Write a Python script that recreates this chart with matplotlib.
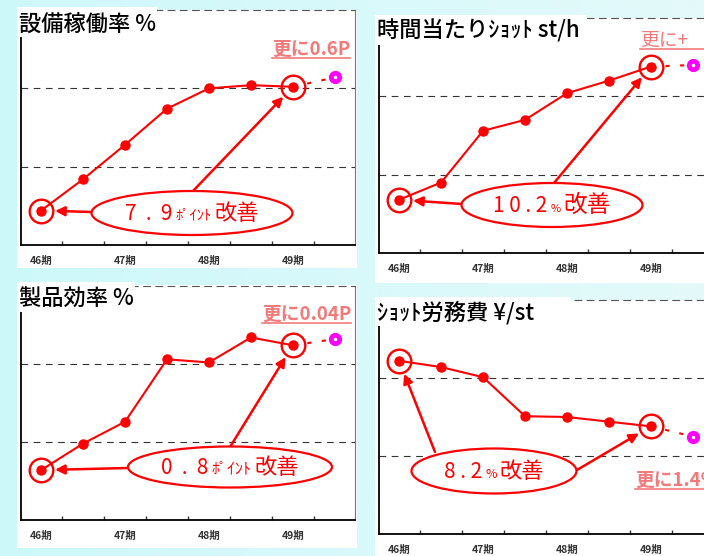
import numpy as np
import matplotlib.pyplot as plt
from matplotlib.patches import Ellipse, Rectangle
from matplotlib.colors import LinearSegmentedColormap
from matplotlib.offsetbox import TextArea, HPacker, AnnotationBbox

plt.rcParams['font.family'] = ['Noto Sans CJK JP', 'DejaVu Sans']

W, H = 704, 556

# data (y axes carry no labels, so the levels are relative)
periods = ['46期', '47期', '48期', '49期']
period_pos = [0, 2, 4, 6]

uptime = [77.2, 79.2, 81.4, 83.7, 85.0, 85.2, 85.1]
uptime_target = 85.7
shots_per_hour = [83.4, 84.5, 87.8, 88.5, 90.2, 91.0, 91.9]
shots_target = 92.0
product_eff = [97.32, 97.49, 97.63, 98.03, 98.01, 98.17, 98.12]
product_target = 98.16
labor_cost = [10.22, 10.14, 10.01, 9.51, 9.50, 9.44, 9.38]
labor_target = 9.25

RED = '#ff0000'
PINK = '#f27a7a'

fig = plt.figure(figsize=(W / 100, H / 100), dpi=100)

# background gradient and white panels (pixel coords, y down)
bg = fig.add_axes([0, 0, 1, 1], zorder=-10)
bg.set_xlim(0, W)
bg.set_ylim(H, 0)
bg.axis('off')
cmap = LinearSegmentedColormap.from_list('bg', ['#cdf8fa', '#e4fafa'])
bg.imshow(np.linspace(0, 1, 256)[None, :], extent=[0, W, H, 0], aspect='auto', cmap=cmap)
for x0, y0, x1, y1 in [(17, 10, 357, 268), (375, 18, 704, 283), (17, 285, 357, 548), (375, 300, 704, 556)]:
    bg.add_patch(Rectangle((x0, y0), x1 - x0, y1 - y0, fc='white', ec='none'))

# overlay for titles, ellipses and notes
ov = fig.add_axes([0, 0, 1, 1], zorder=10)
ov.set_xlim(0, W)
ov.set_ylim(H, 0)
ov.axis('off')
ov.patch.set_alpha(0)


def panel(box, values, target, ylim, grid):
    l, t, r, b = box
    ax = fig.add_axes([l / W, 1 - b / H, (r - l) / W, (b - t) / H])
    ax.set_xlim(-0.48, 7.48)
    ax.set_ylim(*ylim)
    ax.set_yticks(grid)
    ax.set_yticklabels([])
    ax.tick_params(axis='y', length=0)
    ax.yaxis.grid(True, ls=(0, (6, 5)), color='#333333', lw=0.8)
    ax.set_xticks(np.arange(0.5, 7, 1))
    ax.set_xticklabels([])
    ax.tick_params(axis='x', which='major', direction='in', length=3, width=1, color='#333333')
    ax.set_xticks(period_pos, minor=True)
    ax.set_xticklabels(periods, minor=True, fontsize=7.5, fontweight='bold', color='#333333')
    ax.tick_params(axis='x', which='minor', length=0, pad=8)
    ax.spines['left'].set_linewidth(1.3)
    ax.spines['bottom'].set_linewidth(1.3)
    ax.spines['right'].set_color('#777777')
    ax.spines['top'].set_color('#555555')
    ax.spines['top'].set_linestyle((0, (6, 5)))
    ax.spines['top'].set_linewidth(0.8)

    x = np.arange(len(values))
    n = len(values)
    ax.plot([x[-1], n], [values[-1], target], color=RED, lw=1.5, dashes=(2, 5), zorder=3)
    ax.plot(x, values, color=RED, lw=1.5, marker='o', ms=6.5, zorder=4)
    ax.plot([x[0], x[-1]], [values[0], values[-1]], ls='none', marker='o', ms=17,
            mfc='none', mec=RED, mew=1.7, zorder=5)
    ax.plot(n, target, 'o', color='#ff00ff', ms=8.5, zorder=5)
    ax.plot(n, target, 'o', color='white', ms=1.5, zorder=6)
    return ax


def title(rect, xy, s):
    x0, y0, x1, y1 = rect
    ov.add_patch(Rectangle((x0, y0), x1 - x0, y1 - y0, fc='white', ec='none'))
    ov.text(xy[0], xy[1], s, fontsize=16, style='italic', fontweight='medium',
            va='center', ha='left', color='black')


def badge(ax, center, size, parts, arrows):
    ov.add_patch(Ellipse(center, size[0], size[1], fc='white', ec=RED, lw=1.6))
    areas = [TextArea(s, textprops=dict(color=RED, fontsize=fs)) for s, fs in parts]
    box = HPacker(children=areas, align='baseline', pad=0, sep=2)
    ov.add_artist(AnnotationBbox(box, center, xycoords='data', frameon=False,
                                 box_alignment=(0.5, 0.5)))
    for start, target_xy in arrows:
        ax.annotate('', xy=target_xy, xycoords='data',
                    xytext=(start[0], H - start[1]), textcoords='figure pixels',
                    arrowprops=dict(arrowstyle='-|>', color=RED, lw=1.8,
                                    shrinkA=0, shrinkB=10, mutation_scale=14))


notes = []


def note(x, y, s, weight='bold', extend=None):
    t = ov.text(x, y, s, color=PINK, fontsize=13.5, fontweight=weight, va='baseline', ha='left')
    notes.append((t, extend))


ax1 = panel((21, 10, 355, 245), uptime, uptime_target, (75, 90), [80, 85])
ax2 = panel((379, 18, 713, 253), shots_per_hour, shots_target, (80, 95), [85, 90])
ax3 = panel((21, 286, 355, 520), product_eff, product_target, (97.0, 98.5), [97.5, 98.0])
ax4 = panel((379, 300, 713, 534), labor_cost, labor_target, (8, 11), [9, 10])

title((17, 7, 157, 37), (19, 24), '設備稼働率 %')
title((375, 15, 587, 45), (377, 31), '時間当たりｼｮｯﾄ st/h')
title((17, 282, 135, 312), (19, 299), '製品効率 %')
title((375, 297, 570, 326), (377, 313), 'ｼｮｯﾄ労務費 ¥/st')

badge(ax1, (192, 213), (201, 44),
      [('7  .  9', 15), ('ﾎﾟｲﾝﾄ', 10.5), ('改善', 16)],
      [((92, 212), (0, uptime[0])), ((193, 191), (6, uptime[6]))])
badge(ax2, (552, 205), (181, 44),
      [('1 0 . 2', 15), ('%', 8), ('改善', 17)],
      [((462, 204), (0, shots_per_hour[0])), ((554, 183), (6, shots_per_hour[6]))])
badge(ax3, (230, 467), (204, 41),
      [('0  .  8', 15), ('ﾎﾟｲﾝﾄ', 11.5), ('改善', 16)],
      [((128, 468), (0, product_eff[0])), ((230, 447), (6, product_eff[6]))])
badge(ax4, (494, 471), (165, 45),
      [('8 . 2', 15), ('%', 9), ('改善', 16)],
      [((435, 452), (0, labor_cost[0])), ((577, 470), (6, labor_cost[6]))])

note(272, 55, '更に0.6P')
note(640, 46, '更に+', weight='normal', extend=704)
note(262, 320, '更に0.04P')
note(635, 486, '更に1.4%')

# underline the notes
fig.canvas.draw()
renderer = fig.canvas.get_renderer()
inv = ov.transData.inverted()
for t, extend in notes:
    bb = t.get_window_extent(renderer)
    (xa, _), (xb, _) = inv.transform([[bb.x0, bb.y0], [bb.x1, bb.y0]])
    x, y = t.get_position()
    ov.plot([xa, extend if extend else xb], [y + 2.5, y + 2.5], color=PINK, lw=1.2)

fig.savefig('out.png', dpi=100)
